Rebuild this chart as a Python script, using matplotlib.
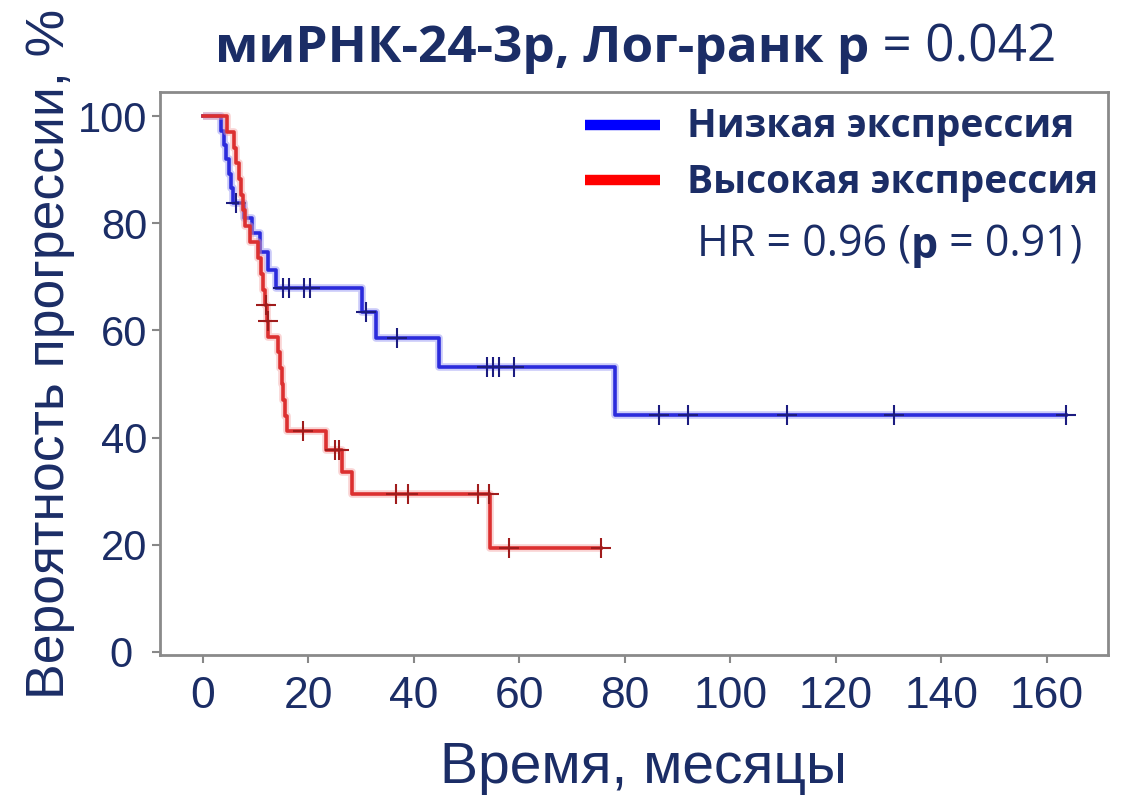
import numpy as np
import matplotlib
matplotlib.use("Agg")
import matplotlib.pyplot as plt
from matplotlib.lines import Line2D
from matplotlib.transforms import ScaledTranslation

# Kaplan-Meier curves: step times (months) and survival level after each step (%)
low_times = [0, 3.5, 4.0, 4.4, 4.9, 5.3, 5.7, 7.8, 9.2, 10.8, 12.4, 13.9,
             30.1, 32.8, 44.8, 78.1]
low_surv = [100, 97.3, 94.6, 91.9, 89.2, 86.5, 83.8, 81.0, 78.1, 74.6, 71.3, 68.0,
            63.4, 58.6, 53.1, 44.2]
low_censored = [6.3, 15.2, 16.3, 19.2, 20.2, 31.0, 36.7, 53.9, 55.0, 56.2, 59.0,
                86.5, 91.9, 110.7, 131.0, 163.6]

high_times = [0, 4.6, 5.9, 6.2, 6.8, 7.2, 7.5, 7.9, 9.0, 10.5, 11.0, 11.4, 11.7,
              12.1, 12.4, 14.3, 14.6, 14.9, 15.2, 15.6, 16.0, 23.3, 26.3, 28.2, 54.4]
high_surv = [100, 97.1, 94.1, 91.2, 88.2, 85.3, 82.4, 79.4, 76.5, 73.5, 70.6, 67.6, 64.7,
             61.8, 58.8, 55.9, 52.9, 50.0, 47.0, 44.1, 41.2, 37.6, 33.6, 29.4, 19.4]
high_censored = [11.9, 12.3, 19.0, 25.0, 25.8, 36.6, 38.9, 52.2, 54.2, 58.0, 75.5]

labels = ["Низкая экспрессия", "Высокая экспрессия"]
legend_colors = ["#0000ff", "#ff0000"]
x_ticks = [0, 20, 40, 60, 80, 100, 120, 140, 160]
y_ticks = [0, 20, 40, 60, 80, 100]

NAVY = "#1b2d66"
W, H = 1130, 795
FONT = ["Open Sans", "DejaVu Sans"]
ARIAL = ["Liberation Sans", "DejaVu Sans"]


def level_at(times, surv, t):
    idx = np.searchsorted(times, t, side="right") - 1
    return np.asarray(surv)[idx]


def draw_km(ax, times, surv, censored, core, halo, mark):
    t = list(times) + [max(censored)]
    s = list(surv) + [surv[-1]]
    ax.step(t, s, where="post", color=halo, lw=5.5, alpha=0.45, solid_capstyle="butt")
    ax.step(t, s, where="post", color=core, lw=2.6)
    ax.plot(censored, level_at(times, surv, censored), "+", color=mark,
            ms=14, mew=1.5, linestyle="none")


def px(x, y):
    return x / W, 1 - y / H


fig = plt.figure(figsize=(W / 100, H / 100), dpi=100)
ax = fig.add_axes([160 / W, 1 - 655 / H, (1108 - 160) / W, (655 - 92) / H])

draw_km(ax, low_times, low_surv, low_censored, "#2b2bdc", "#8c8cf2", "#1c1c80")
draw_km(ax, high_times, high_surv, high_censored, "#dc3030", "#f4a0a0", "#a01c1c")

ax.set_xlim(-8.15, 171.6)
ax.set_ylim(-0.6, 104.5)
ax.set_xticks(x_ticks)
ax.set_yticks(y_ticks)
ax.set_xticklabels([str(v) for v in x_ticks], fontsize=32, color=NAVY, family=ARIAL)
ax.set_yticklabels([str(v) for v in y_ticks], fontsize=30, color=NAVY, family=ARIAL)
ax.tick_params(axis="both", direction="out", length=6, width=1.5, color="#888888")
ax.tick_params(axis="x", pad=9)
ax.tick_params(axis="y", pad=3)
for sp in ax.spines.values():
    sp.set_color("#8a8a8a")
    sp.set_linewidth(2)

# the zero label sits a little further out than the others
zero_lbl = ax.get_yticklabels()[0]
zero_lbl.set_transform(zero_lbl.get_transform()
                       + ScaledTranslation(-0.15, 0, fig.dpi_scale_trans))

fig.text(*px(50, 354), "Вероятность прогрессии, %", rotation=90,
         ha="center", va="center", fontsize=38.5, color=NAVY, family=ARIAL)
fig.text(*px(643, 768), "Время, месяцы", ha="center", va="center",
         fontsize=41, color=NAVY, family=ARIAL)

# title: bold lead-in followed by regular p-value
t1 = fig.text(*px(215, 62), "миРНК-24-3р, Лог-ранк р", fontsize=37,
              fontweight="bold", color=NAVY, family=FONT, va="baseline")
ax.annotate(" = 0.042", xy=(1, 0), xycoords=t1, va="bottom", ha="left",
            fontsize=37, color=NAVY, family=FONT, annotation_clip=False)

# legend drawn by hand so the swatches and labels sit exactly in place
for i, (lab, col) in enumerate(zip(labels, legend_colors)):
    y = 125 + 55 * i
    fig.add_artist(Line2D([585 / W, 660 / W], [1 - y / H] * 2, color=col, lw=7.5,
                          solid_capstyle="butt"))
    fig.text(*px(687, y + 2), lab, fontsize=28, fontweight="bold", color=NAVY,
             family=FONT, va="center", ha="left")

h1 = fig.text(*px(697, 257), "HR = 0.96 (", fontsize=31, color=NAVY,
              family=FONT, va="baseline")
h2 = ax.annotate("p", xy=(1, 0), xycoords=h1, va="bottom", ha="left", fontsize=31,
                 fontweight="bold", color=NAVY, family=FONT, annotation_clip=False)
ax.annotate(" = 0.91)", xy=(1, 0), xycoords=h2, va="bottom", ha="left", fontsize=31,
            color=NAVY, family=FONT, annotation_clip=False)

fig.savefig("out.png", dpi=100, facecolor="white")
